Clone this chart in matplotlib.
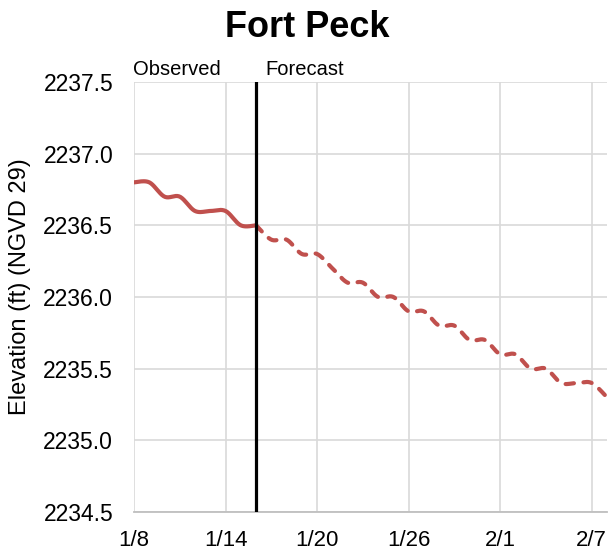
import numpy as np
import pandas as pd
import matplotlib
matplotlib.use("Agg")
import matplotlib.pyplot as plt
import matplotlib.dates as mdates

plt.rcParams['font.family'] = ['Liberation Sans', 'DejaVu Sans']

title = "Fort Peck"
ylabel = "Elevation (ft) (NGVD 29)"

obs_dates = pd.date_range("2024-01-08", "2024-01-16")
obs_elev = [2236.8, 2236.8, 2236.7, 2236.7, 2236.6, 2236.6, 2236.6, 2236.5, 2236.5]

fc_dates = pd.date_range("2024-01-16", "2024-02-08")
fc_elev = [2236.5, 2236.4, 2236.4, 2236.3, 2236.3, 2236.2, 2236.1, 2236.1,
           2236.0, 2236.0, 2235.9, 2235.9, 2235.8, 2235.8, 2235.7, 2235.7,
           2235.6, 2235.6, 2235.5, 2235.5, 2235.4, 2235.4, 2235.4, 2235.3]

forecast_start = pd.Timestamp("2024-01-16")
x_ticks = pd.date_range("2024-01-08", "2024-02-07", freq="6D")
y_ticks = [2234.5, 2235.0, 2235.5, 2236.0, 2236.5, 2237.0, 2237.5]

red = "#C0504D"
grid = "#D9D9D9"


def smooth(dates, vals, n=20):
    # bezier smoothing between daily points (spreadsheet-style smoothed line)
    x = mdates.date2num(dates)
    y = np.asarray(vals, dtype=float)
    xs, ys = [], []
    for i in range(len(x) - 1):
        i0 = max(i - 1, 0)
        i3 = min(i + 2, len(x) - 1)
        p0 = np.array([x[i0], y[i0]])
        p1 = np.array([x[i], y[i]])
        p2 = np.array([x[i + 1], y[i + 1]])
        p3 = np.array([x[i3], y[i3]])
        c1 = p1 + (p2 - p0) / 6
        c2 = p2 - (p3 - p1) / 6
        t = np.linspace(0, 1, n)[:, None]
        pts = ((1 - t) ** 3) * p1 + 3 * ((1 - t) ** 2) * t * c1 \
            + 3 * (1 - t) * t ** 2 * c2 + t ** 3 * p2
        if i > 0:
            pts = pts[1:]
        xs.append(pts[:, 0])
        ys.append(pts[:, 1])
    return np.concatenate(xs), np.concatenate(ys)


fig = plt.figure(figsize=(6.09, 5.55), dpi=100)
ax = fig.add_axes([134 / 609, 1 - 512 / 555, 473 / 609, 430 / 555])

ox, oy = smooth(obs_dates, obs_elev)
ax.plot(ox, oy, color=red, lw=3.0, solid_capstyle='round', zorder=3)

fx, fy = smooth(fc_dates, fc_elev)
ax.plot(fx, fy, color=red, lw=3.0, dashes=(2.0, 2.3), dash_capstyle='round', zorder=3)

ax.axvline(forecast_start, color="black", lw=2.3, zorder=4)

ax.set_xlim(pd.Timestamp("2024-01-08"), pd.Timestamp("2024-02-08"))
ax.set_ylim(2234.5, 2237.5)
ax.set_xticks(x_ticks)
ax.xaxis.set_major_formatter(mdates.DateFormatter("%-m/%-d"))
ax.set_yticks(y_ticks)
ax.yaxis.set_major_formatter(plt.FuncFormatter(lambda v, p: f"{v:.1f}"))

ax.grid(True, color=grid, lw=1.2)
ax.set_axisbelow(True)
for side in ["top", "right", "left"]:
    ax.spines[side].set_visible(False)
ax.spines["bottom"].set_color("#BFBFBF")
ax.spines["bottom"].set_linewidth(1.3)
ax.tick_params(axis="x", length=0, labelsize=16, pad=13)
ax.tick_params(axis="y", length=0, labelsize=16.5, pad=15)

fig.text(0.505, 1 - 37 / 555, title, ha="center", va="baseline",
         fontsize=26, fontweight="bold")
fig.text(20 / 609, 1 - 287 / 555, ylabel, rotation=90, ha="center",
         va="center", fontsize=17)
fig.text(133 / 609, 1 - 75 / 555, "Observed", fontsize=14.5, va="baseline")
fig.text(265 / 609, 1 - 75 / 555, "Forecast", fontsize=14.5, va="baseline")

fig.savefig("out.png", dpi=100)
